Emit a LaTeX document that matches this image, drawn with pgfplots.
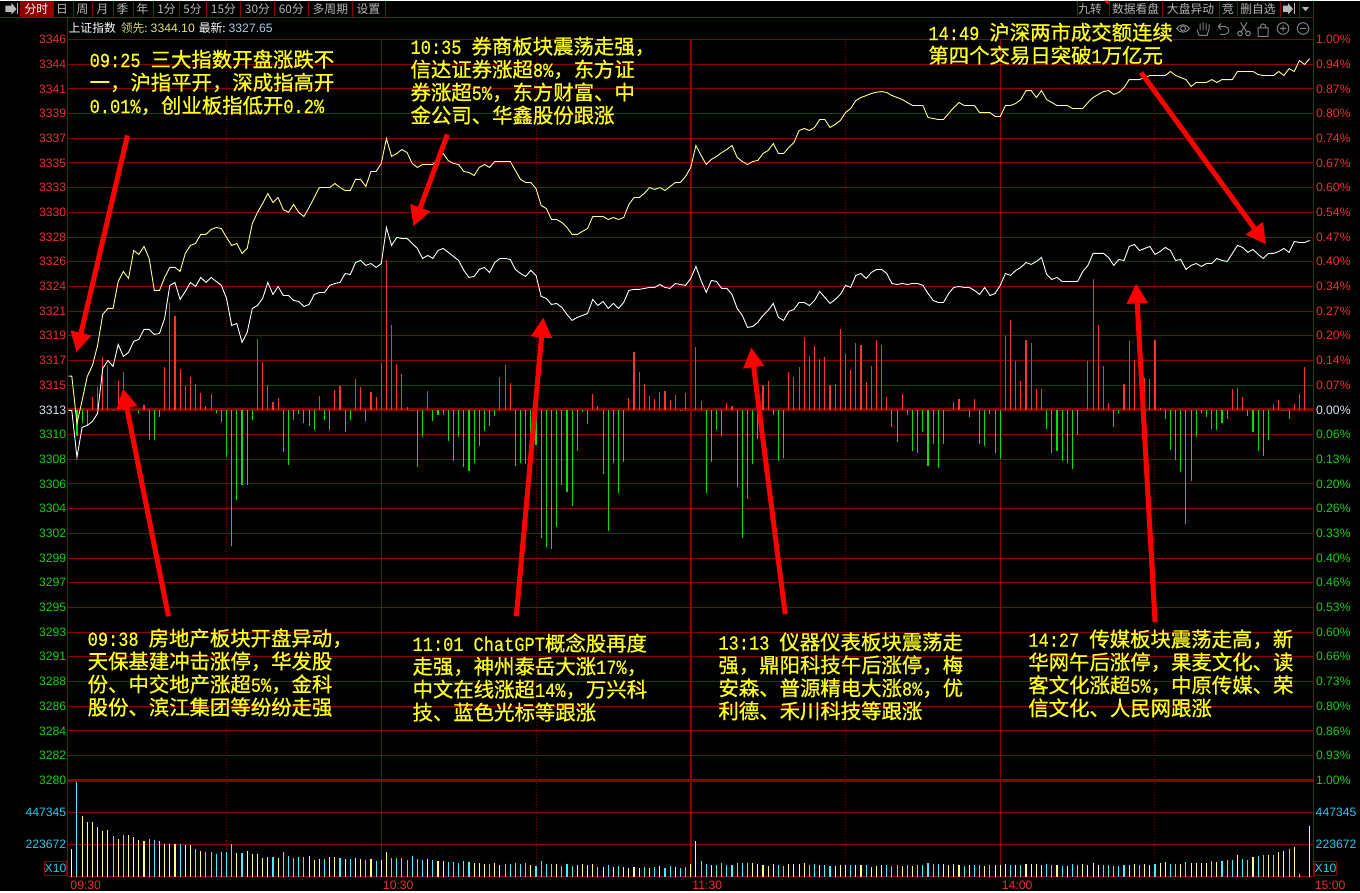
\documentclass[border=0pt]{standalone}
\usepackage{fontspec}
\usepackage{pgfplots}
\pgfplotsset{compat=1.18}
\usetikzlibrary{arrows.meta}
\setmainfont{Liberation Sans}
\newfontfamily\cjk{Noto Sans CJK SC}
\newfontfamily\annocjk[FakeBold=0.7]{Noto Sans CJK SC}
\newfontfamily\annolat[FakeBold=0.4,FakeStretch=0.85]{Liberation Mono}
\newcommand{\la}[1]{{\annolat\fontsize{20}{23}\selectfont #1}}
\newcommand{\gapx}{\hspace{10pt}}
\definecolor{gridred}{HTML}{8C0000}
\definecolor{barred}{HTML}{FF3232}
\definecolor{bargreen}{HTML}{00E000}
\definecolor{lblred}{HTML}{E63232}
\definecolor{lblgreen}{HTML}{10D010}
\definecolor{lblcyan}{HTML}{28C8F0}
\definecolor{volcyan}{HTML}{40F0FF}
\definecolor{volyel}{HTML}{FFFF80}
\definecolor{lineyel}{HTML}{FFFF90}
\definecolor{annoyel}{HTML}{FFFF20}
\definecolor{uigrey}{HTML}{B8B8B8}
\definecolor{uiblue}{HTML}{B0C8E8}
\newcommand{\R}[1]{\textcolor{lblred}{#1}}
\newcommand{\G}[1]{\textcolor{lblgreen}{#1}}
\pgfplotsset{panel/.style={
  scale only axis, width=1245.8pt, xmin=-0.74, xmax=240.7,
  major tick length=0pt, minor tick length=0pt,
  tick label style={font=\fontsize{12.2}{14}\selectfont},
  axis line style={gridred, line width=1pt}}}
\begin{document}
\begin{tikzpicture}
\begin{scope}[x=1pt,y=-1pt]
\fill[black] (0,0) rectangle (1360,891);
\useasboundingbox (0,0) rectangle (1360,891);
\end{scope}

% red / green bars, grid, percent scale on the right
\begin{axis}[panel, at={(67.5pt,-39pt)}, anchor=north west, height=741pt,
  ymin=-370.5, ymax=370.5,
  axis x line*=bottom, axis y line*=right,
  xtick={60,120,180}, xticklabels={}, minor xtick={30,90,150,210},
  xmajorgrids, xminorgrids, ymajorgrids,
  major grid style={gridred, line width=1pt},
  minor grid style={gridred, line width=1pt, dash pattern=on 1pt off 2pt},
  ytick={-370.5,-345.8,-321.1,-296.4,-271.7,-247,-222.3,-197.6,-172.9,-148.2,-123.5,-98.8,-74.1,-49.4,-24.7,0,24.7,49.4,74.1,98.8,123.5,148.2,172.9,197.6,222.3,247,271.7,296.4,321.1,345.8,370.5},
  yticklabels={\G{1.00\%},\G{0.93\%},\G{0.86\%},\G{0.80\%},\G{0.73\%},\G{0.66\%},\G{0.60\%},\G{0.53\%},\G{0.46\%},\G{0.40\%},\G{0.33\%},\G{0.26\%},\G{0.20\%},\G{0.13\%},\G{0.06\%},\textcolor{uiblue!50!white}{0.00\%},\R{0.07\%},\R{0.14\%},\R{0.20\%},\R{0.27\%},\R{0.34\%},\R{0.40\%},\R{0.47\%},\R{0.54\%},\R{0.60\%},\R{0.67\%},\R{0.74\%},\R{0.80\%},\R{0.87\%},\R{0.94\%},\R{1.00\%}},
  yticklabel style={inner xsep=2.5pt, anchor=west}]
\draw[gridred, line width=3pt] (axis cs:-0.74,0) -- (axis cs:240.7,0);
\draw[gridred, line width=2pt] (axis cs:120,-370.5) -- (axis cs:120,370.5);
\addplot[ycomb, barred, line width=1.1pt, no marks] coordinates {
(4,13)(5,23)(6,53)(7,45)(9,29)(10,38)(14,5)(18,43)(19,107)(20,94)(21,41)(22,24)(23,33)(24,26)(25,17)(26,4)(27,16)
(36,71)(37,48)(38,25)(39,8)(40,12)(48,14)(51,20)(52,24)(55,31)(56,23)(58,18)(59,13)(60,47)(61,150)(62,85)(63,46)(64,36)(65,3)(69,19)
(83,33)(84,45)(85,27)(101,16)(102,4)(108,12)(109,58)(110,38)(111,26)(112,14)(113,11)(114,18)(115,19)(116,10)(117,15)(119,17)
(121,63)(122,9)(127,7)(128,4)(134,25)(135,29)(139,38)(140,33)(141,43)(142,73)(143,54)(144,64)(145,51)(146,53)(147,25)(148,26)(149,81)(150,56)(151,40)(152,67)(153,65)(154,28)(155,44)(156,70)(157,65)(158,13)
(161,16)(171,8)(172,11)(175,11)(181,74)(182,90)(183,49)(184,29)(185,70)(186,67)(187,21)(188,21)(197,49)(198,131)(199,85)(200,44)(201,7)(204,26)(205,69)(206,50)(208,32)(209,31)(210,70)(211,2)
(225,21)(226,22)(227,13)(233,6)(234,10)(237,6)(238,16)(239,43)};
\addplot[ycomb, bargreen, line width=1.1pt, no marks] coordinates {
(1,-26)(2,-13)(3,-16)(8,-1)(13,-3)(15,-30)(16,-30)(17,-7)(28,-3)(29,-12)(30,-47)(31,-136)(32,-90)(33,-75)(34,-75)(35,-10)
(41,-42)(42,-55)(43,-10)(44,-4)(45,-13)(46,-16)(47,-20)(49,-10)(50,-20)(53,-22)(54,-10)(57,-11)(66,-1)(67,-57)(68,-27)(70,-11)(71,-5)(72,-5)(73,-31)
(74,-51)(75,-27)(76,-57)(77,-61)(78,-53)(79,-36)(80,-21)(81,-16)(82,-6)(86,-56)(87,-53)(88,-54)(89,-52)(90,-35)(91,-128)(92,-137)(93,-139)(94,-117)(95,-75)(96,-82)(97,-96)(98,-41)(99,-2)(100,-14)
(103,-64)(104,-121)(105,-53)(106,-83)(107,-52)(118,-1)(123,-83)(124,-52)(125,-20)(126,-26)(129,-77)(130,-128)(131,-89)(132,-54)(133,-29)(136,-5)(137,-51)(138,-48)
(159,-17)(160,-32)(162,-5)(163,-41)(164,-43)(165,-22)(166,-56)(167,-34)(168,-58)(169,-34)(170,-1)(173,-1)(174,-7)(176,-34)(177,-36)(178,-4)(179,-43)(180,-49)
(189,-19)(190,-43)(191,-41)(192,-51)(193,-53)(194,-59)(195,-25)(196,-1)(202,-17)(203,-3)(212,-9)(213,-40)(214,-50)(215,-62)(216,-114)(217,-71)(218,-27)(219,-3)(220,-7)(221,-19)(222,-20)(223,-13)(224,-9)
(228,-6)(229,-22)(230,-41)(231,-46)(232,-30)(235,-1)(236,-9)};
\end{axis}

% index lines and the points scale on the left
\begin{axis}[panel, at={(67.5pt,-39pt)}, anchor=north west, height=741pt,
  ymin=3280, ymax=3346,
  axis x line=none, axis y line*=left,
  y axis line style={gridred, line width=1pt},
  ytick={3280,3282.2,3284.4,3286.6,3288.8,3291,3293.2,3295.4,3297.6,3299.8,3302,3304.2,3306.4,3308.6,3310.8,3313,3315.2,3317.4,3319.6,3321.8,3324,3326.2,3328.4,3330.6,3332.8,3335,3337.2,3339.4,3341.6,3343.8,3346},
  yticklabels={\G{3280},\G{3282},\G{3284},\G{3286},\G{3288},\G{3291},\G{3293},\G{3295},\G{3297},\G{3299},\G{3302},\G{3304},\G{3306},\G{3308},\G{3310},\textcolor{uiblue!50!white}{3313},\R{3315},\R{3317},\R{3319},\R{3321},\R{3324},\R{3326},\R{3328},\R{3330},\R{3333},\R{3335},\R{3337},\R{3339},\R{3341},\R{3344},\R{3346}},
  yticklabel style={inner xsep=1.5pt, anchor=east}]
\addplot[lineyel, line width=0.9pt, no marks] coordinates {
(-0.6,3316.01)(0,3316.01)(1,3311.79)(2,3313.84)(3,3315.98)(4,3316.96)(5,3318.74)(6,3321.5)(7,3322.04)(8,3322.04)(9,3324.44)(10,3325.33)(11,3324.71)(12,3327.2)(13,3326.85)(14,3327.56)(15,3326.49)(16,3323.64)(17,3323.64)(18,3324.8)(19,3325.69)(20,3325.69)(21,3325.33)(22,3326.94)(23,3327.65)(24,3327.83)(25,3328.63)(26,3328.63)(27,3329.07)(28,3329.25)(29,3329.16)(30,3328.36)
(31,3327.65)(32,3327.83)(33,3326.94)(34,3327.38)(35,3329.61)(36,3330.59)(37,3331.39)(38,3332.28)(39,3331.48)(40,3331.92)(41,3330.85)(42,3330.59)(43,3331.3)(44,3330.59)(45,3330.23)(46,3331.03)(47,3331.92)(48,3332.81)(49,3332.81)(50,3332.81)(51,3333.17)(52,3332.81)(53,3332.55)(54,3332.55)(55,3333.53)(56,3333.53)(57,3332.9)(58,3334.24)(59,3334.24)(60,3334.95)
(61,3337.18)(62,3335.58)(63,3335.84)(64,3336.2)(65,3335.93)(66,3334.95)(67,3334.6)(68,3334.86)(69,3334.86)(70,3334.86)(71,3335.4)(72,3335.84)(73,3335.2)(74,3334.95)(75,3334.86)(76,3334.24)(77,3334.15)(78,3333.88)(79,3334.6)(80,3334.86)(81,3334.6)(82,3335.13)(83,3335.13)(84,3335.13)(85,3335.13)(86,3334.33)(87,3333.53)(88,3333.26)(89,3333.26)(90,3332.72)
(91,3331.21)(92,3330.94)(93,3329.96)(94,3329.96)(95,3329.7)(96,3329.25)(97,3328.63)(98,3328.63)(99,3328.9)(100,3329.16)(101,3330.23)(102,3330.23)(103,3330.23)(104,3329.96)(105,3330.14)(106,3329.96)(107,3330.14)(108,3331.3)(109,3331.92)(110,3331.92)(111,3332.28)(112,3332.81)(113,3332.64)(114,3332.81)(115,3332.55)(116,3332.9)(117,3333.26)(118,3333.26)(119,3333.8)(120,3334.6)
(121,3336.56)(122,3335.67)(123,3334.86)(124,3335.31)(125,3335.58)(126,3335.93)(127,3336.2)(128,3336.56)(129,3335.49)(130,3335.13)(131,3334.86)(132,3335.13)(133,3335.22)(134,3335.84)(135,3336.11)(136,3336.73)(137,3335.84)(138,3335.84)(139,3336.38)(140,3336.82)(141,3337.89)(142,3338.07)(143,3337.89)(144,3338.16)(145,3338.87)(146,3338.87)(147,3338.16)(148,3338.43)(149,3338.78)(150,3339.49)
(151,3339.85)(152,3340.56)(153,3340.83)(154,3341)(155,3341.19)(156,3341.3)(157,3341.36)(158,3341.28)(159,3341.01)(160,3340.83)(161,3340.65)(162,3340.38)(163,3340.12)(164,3340.12)(165,3340.12)(166,3339.05)(167,3338.96)(168,3338.87)(169,3338.87)(170,3339.41)(171,3339.94)(172,3340.38)(173,3340.12)(174,3340.12)(175,3340.12)(176,3339.49)(177,3339.49)(178,3339.49)(179,3339.14)(180,3339.14)
(181,3340.12)(182,3340.12)(183,3340.3)(184,3340.65)(185,3341.45)(186,3341.45)(187,3340.83)(188,3341.45)(189,3340.65)(190,3340.38)(191,3340.12)(192,3340.12)(193,3340.12)(194,3339.85)(195,3339.85)(196,3339.85)(197,3340.38)(198,3340.83)(199,3341.1)(200,3341.36)(201,3341.45)(202,3341.1)(203,3341.28)(204,3341.72)(205,3342.43)(206,3342.43)(207,3342.43)(208,3342.61)(209,3342.79)(210,3342.79)
(211,3342.79)(212,3342.79)(213,3343.15)(214,3342.79)(215,3342.61)(216,3342.43)(217,3341.81)(218,3342.17)(219,3342.17)(220,3342.17)(221,3342.43)(222,3342.17)(223,3342.43)(224,3342.43)(225,3342.43)(226,3343.15)(227,3343.15)(228,3343.15)(229,3343.15)(230,3342.88)(231,3342.79)(232,3342.79)(233,3342.79)(234,3343.15)(235,3342.79)(236,3343.41)(237,3343.15)(238,3344.13)(239,3343.77)(240,3344.3)};
\addplot[white, line width=0.9pt, no marks] coordinates {
(-0.6,3312.95)(0,3312.95)(1,3308.77)(2,3311.44)(3,3311.62)(4,3311.97)(5,3312.68)(6,3316.69)(7,3317.4)(8,3316.87)(9,3318.83)(10,3317.76)(11,3318.12)(12,3319.1)(13,3319.28)(14,3320.17)(15,3320.17)(16,3319.72)(17,3319.81)(18,3321.15)(19,3324.08)(20,3324.35)(21,3322.84)(22,3323.55)(23,3324.35)(24,3323.99)(25,3324.8)(26,3324.35)(27,3324.8)(28,3324.44)(29,3324.09)(30,3322.93)
(31,3320.52)(32,3320.7)(33,3319.01)(34,3319.9)(35,3322.04)(36,3322.3)(37,3322.93)(38,3324.35)(39,3323.28)(40,3323.99)(41,3323.19)(42,3323.19)(43,3322.75)(44,3322.66)(45,3322.21)(46,3322.39)(47,3323.28)(48,3323.46)(49,3323.46)(50,3324.09)(51,3324.26)(52,3324.35)(53,3325.15)(54,3325.06)(55,3326.13)(56,3326.31)(57,3325.87)(58,3326.04)(59,3325.69)(60,3326.04)
(61,3329.25)(62,3327.65)(63,3328.36)(64,3328.27)(65,3328.27)(66,3327.83)(67,3327.38)(68,3326.49)(69,3326.76)(70,3326.49)(71,3327.2)(72,3327.38)(73,3327.03)(74,3326.67)(75,3326.31)(76,3325.42)(77,3324.8)(78,3324.89)(79,3325.51)(80,3325.69)(81,3325.24)(82,3326.13)(83,3326.49)(84,3326.49)(85,3326.4)(86,3325.51)(87,3325.15)(88,3324.89)(89,3325.42)(90,3324.98)
(91,3323.11)(92,3322.93)(93,3322.39)(94,3322.48)(95,3322.13)(96,3321.5)(97,3320.97)(98,3321.24)(99,3321.41)(100,3321.59)(101,3322.84)(102,3322.3)(103,3322.66)(104,3322.04)(105,3322.48)(106,3322.04)(107,3322.57)(108,3323.64)(109,3323.73)(110,3323.73)(111,3323.82)(112,3323.91)(113,3323.91)(114,3324.17)(115,3323.91)(116,3323.82)(117,3324.26)(118,3324.17)(119,3324.09)(120,3324.71)
(121,3325.78)(122,3324.53)(123,3323.46)(124,3324.53)(125,3324.44)(126,3323.82)(127,3323.82)(128,3323.28)(129,3322.04)(130,3321.41)(131,3320.34)(132,3320.43)(133,3320.79)(134,3321.41)(135,3321.86)(136,3322.48)(137,3321.24)(138,3320.97)(139,3321.77)(140,3321.95)(141,3322.57)(142,3322.57)(143,3322.3)(144,3322.75)(145,3323.55)(146,3323.02)(147,3322.48)(148,3322.84)(149,3323.28)(150,3324.09)
(151,3323.91)(152,3324.98)(153,3325.15)(154,3324.71)(155,3325.24)(156,3325.51)(157,3325.51)(158,3325.15)(159,3324.26)(160,3324.17)(161,3324.26)(162,3324.17)(163,3324.26)(164,3324.26)(165,3324.09)(166,3323.37)(167,3322.75)(168,3322.57)(169,3322.57)(170,3323.37)(171,3323.91)(172,3323.99)(173,3323.91)(174,3323.91)(175,3323.64)(176,3323.28)(177,3323.91)(178,3323.19)(179,3323.37)(180,3324.09)
(181,3325.15)(182,3324.98)(183,3325.42)(184,3325.69)(185,3326.13)(186,3325.96)(187,3326.22)(188,3326.58)(189,3325.06)(190,3324.62)(191,3324.8)(192,3324.44)(193,3324.44)(194,3324.44)(195,3324.44)(196,3325.33)(197,3325.87)(198,3326.94)(199,3326.94)(200,3326.94)(201,3326.58)(202,3325.87)(203,3326.4)(204,3326.31)(205,3327.56)(206,3327.74)(207,3327.2)(208,3327.38)(209,3327.56)(210,3326.85)
(211,3327.11)(212,3327.47)(213,3327.2)(214,3326.31)(215,3326.4)(216,3325.51)(217,3325.87)(218,3326.04)(219,3325.78)(220,3326.04)(221,3326.04)(222,3326.49)(223,3326.31)(224,3326.22)(225,3326.94)(226,3327.65)(227,3327.47)(228,3327.03)(229,3327.29)(230,3326.85)(231,3326.49)(232,3326.94)(233,3326.94)(234,3327.11)(235,3327.38)(236,3327.03)(237,3328)(238,3327.91)(239,3327.91)(240,3328.09)};
\end{axis}

% volume panel, in thousands
\begin{axis}[panel, at={(67.5pt,-780pt)}, anchor=north west, height=96.8pt,
  ymin=0, ymax=671,
  xtick={60,120,180}, xticklabels={10:30,11:30,14:00},
  minor xtick={30,90,150,210},
  extra x ticks={0,240}, extra x tick labels={\hspace*{-3pt}09:30,\hspace*{3.5pt}15:00},
  extra x tick style={grid=none},
  xmajorgrids, xminorgrids, ymajorgrids,
  major grid style={gridred, line width=1pt},
  minor grid style={gridred, line width=1pt, dash pattern=on 1pt off 2pt},
  ytick={223.672,447.345}, yticklabels={223672,447345},
  xticklabel style={anchor=north west, inner xsep=1.5pt, inner ysep=3.5pt, text=lblred},
  yticklabel style={inner xsep=1.5pt, anchor=east, text=lblcyan}]
\draw[gridred, line width=2pt] (axis cs:120,0) -- (axis cs:120,671);
\addplot[ycomb, volcyan, line width=1.1pt, no marks] coordinates {
(1,667)(8,285)(10,292)(15,264)(16,257)(21,229)(24,194)(26,174)(27,174)(28,160)(29,174)(30,174)(31,229)(33,167)(39,139)(41,174)(42,146)(43,132)(44,139)(45,139)(49,125)(52,132)(54,125)(57,118)(59,111)(62,132)(63,132)(64,132)(65,118)(66,146)(67,125)(68,118)(70,118)(73,104)(74,104)(75,97)(76,111)(77,104)
(81,90)(84,90)(85,90)(86,97)(87,90)(88,97)(90,76)(91,111)(92,90)(93,90)(95,76)(96,90)(97,76)(102,69)(104,83)(106,76)(111,69)(113,69)(115,62)(116,76)(118,62)(119,69)(122,111)(123,90)(125,83)(126,97)(127,83)(128,83)(129,97)(130,97)(131,97)(137,83)(138,76)(143,83)(144,90)(146,83)(147,76)(151,83)(154,83)(158,83)(159,76)(160,83)
(162,83)(164,83)(165,83)(166,97)(167,90)(168,90)(173,76)(175,83)(176,83)(178,83)(182,83)(184,83)(189,90)(190,83)(192,76)(194,90)(195,83)(200,83)(201,83)(202,76)(203,76)(204,83)(207,83)(210,90)(213,90)(214,90)(216,104)(221,111)(223,111)(224,118)(225,118)(227,125)(228,118)(230,146)(231,153)(233,153)(236,194)(238,21)};
\addplot[ycomb, volyel, line width=1.1pt, no marks] coordinates {
(2,424)(3,382)(4,382)(5,347)(6,320)(7,326)(9,264)(11,292)(12,278)(13,257)(14,250)(17,250)(18,229)(19,229)(20,229)(22,222)(23,222)(25,181)(32,167)(34,181)(35,160)(36,160)(37,132)(38,139)(40,132)(46,146)(47,118)(48,125)(50,139)(51,139)(53,125)(55,132)(56,125)(58,125)(60,118)(61,174)(69,125)(71,111)(72,111)
(78,97)(79,97)(80,90)(82,97)(83,83)(89,83)(94,90)(98,83)(99,90)(100,83)(101,90)(103,69)(105,69)(107,69)(108,62)(109,69)(110,62)(112,62)(114,76)(117,69)(120,90)(121,250)(124,83)(132,97)(133,90)(134,83)(135,76)(136,90)(139,90)(140,90)(141,90)(142,97)(145,83)(148,76)(149,83)(150,83)(152,83)(153,83)(155,69)(156,76)(157,83)
(161,76)(163,76)(169,90)(170,83)(171,90)(172,83)(174,83)(177,76)(179,83)(180,83)(181,90)(183,83)(185,90)(186,90)(187,90)(188,83)(191,83)(193,76)(196,90)(197,83)(198,97)(205,83)(206,90)(208,90)(209,83)(211,97)(212,104)(215,90)(217,97)(218,97)(219,97)(220,97)(222,104)(226,153)(229,139)(232,153)(234,174)(235,181)(237,208)(240,354)};
\addplot[ycomb, white, line width=1.1pt, no marks] coordinates {(0,194)(199,83)};
\end{axis}

% screen furniture, in image pixels
\begin{scope}[x=1pt,y=-1pt]
\draw[gridred, line width=3pt] (67.5,780) -- (1313.3,780);
\draw[gridred, line width=1pt] (67.5,17.5) -- (67.5,39) (1313.3,0) -- (1313.3,39);
\draw[gridred, line width=1pt] (67.5,39) -- (1313.3,39);
\draw[gridred!80!red, line width=1pt] (0,17.5) -- (1313.3,17.5);
\fill[gridred] (20,0) rectangle (53,17);
\foreach \x in {20,53,73,92.5,113,133,153,179.5,206,240,274,308,352,385,1077,1109,1162,1219,1237,1280,1299}
  \draw[gridred, line width=1pt] (\x,0) -- (\x,17.5);
\fill[uigrey] (5,5) -- (11,5) -- (11,2.5) -- (16,8.5) -- (11,14) -- (11,11.5) -- (5,11.5) -- cycle;
\fill[uigrey] (16.5,2.5) rectangle (18,14);
\fill[uigrey] (1283,5) -- (1288,5) -- (1288,2.5) -- (1293,8.5) -- (1288,14) -- (1288,11.5) -- (1283,11.5) -- cycle;
\fill[uigrey] (1293.5,2.5) rectangle (1295,14);
\fill[uigrey] (1302,6.5) -- (1309,6.5) -- (1305.5,10.5) -- cycle;
\fill[red] (1104,0) -- (1108.5,0) -- (1108.5,4.5) -- cycle;
\tikzset{bt/.style={anchor=center, inner sep=0pt, font=\cjk\fontsize{11.8}{14}\selectfont, text=uigrey}}
\node[bt, text=white] at (36,8.5) {分时};
\node[bt] at (61.5,8.5) {日};
\node[bt] at (82,8.5) {周};
\node[bt] at (102,8.5) {月};
\node[bt] at (122,8.5) {季};
\node[bt] at (142,8.5) {年};
\node[bt] at (166,8.5) {1分};
\node[bt] at (192,8.5) {5分};
\node[bt] at (223,8.5) {15分};
\node[bt] at (257,8.5) {30分};
\node[bt] at (291,8.5) {60分};
\node[bt] at (330,8.5) {多周期};
\node[bt] at (368,8.5) {设置};
\node[bt] at (1090,8.5) {九转};
\node[bt] at (1135.5,8.5) {数据看盘};
\node[bt] at (1190.5,8.5) {大盘异动};
\node[bt] at (1228,8.5) {竞};
\node[bt] at (1258,8.5) {删自选};
% quote line
\node[anchor=west, inner sep=0pt, font=\fontsize{12.2}{14}\selectfont] at (68,28)
  {\textcolor{white}{\cjk\fontsize{11.8}{14}\selectfont 上证指数}\hspace{5pt}\textcolor{volyel!85!black}{\cjk\fontsize{11.8}{14}\selectfont 领先:}\hspace{3pt}\textcolor{volyel!90!black}{3344.10}\hspace{4pt}\textcolor{white}{\cjk\fontsize{11.8}{14}\selectfont 最新:}\hspace{3pt}\textcolor{uiblue}{3327.65}};
% tool icons
\begin{scope}[draw=uigrey!70!black, line width=1pt]
\draw (1176.5,28) .. controls (1180,23) and (1186,23) .. (1189.5,28) .. controls (1186,33) and (1180,33) .. cycle;
\draw (1183,28) circle (2.5);
\draw (1199,35) -- (1197,29) (1199,35) -- (1207,35) -- (1209,28) -- (1209,24) (1200,30) -- (1200,23) (1203,30) -- (1203,22) (1206,30) -- (1206,23);
\draw (1218,26) -- (1225,26) .. controls (1230,26) and (1230,34) .. (1225,34) -- (1220,34) (1218,26) -- (1221,23) (1218,26) -- (1221,29);
\draw (1240.5,22) -- (1247,32) (1247,22) -- (1240.5,32);
\draw (1240,33) circle (2.3) (1248,33) circle (2.3);
\draw (1258,27.5) rectangle (1268,36) (1260,27.5) .. controls (1260,22) and (1266,22) .. (1266,27.5);
\draw (1283,28) circle (5.8) (1280,28) -- (1286,28) (1283,25) -- (1283,31);
\draw (1303,28) circle (5.8) (1300,28) -- (1306,28);
\end{scope}
% X10 boxes
\tikzset{xbox/.style={draw=gridred, line width=1pt, text=lblcyan, inner sep=0pt, minimum width=22pt, minimum height=14pt, font=\fontsize{12.2}{14}\selectfont}}
\node[xbox] at (55,868) {X10};
\node[xbox] at (1325.5,868) {X10};
% right volume scale
\node[anchor=west, inner sep=0pt, text=lblcyan, font=\fontsize{12.2}{14}\selectfont] at (1315.5,812) {447345};
\node[anchor=west, inner sep=0pt, text=lblcyan, font=\fontsize{12.2}{14}\selectfont] at (1315.5,844.5) {223672};
% call-out arrows
\tikzset{call/.style={red, line width=5pt, -{Triangle[length=20pt,width=20pt]}}}
\draw[call] (127,135) -- (76,352);
\draw[call] (168,616) -- (122.5,388);
\draw[call] (447,134) -- (413,226);
\draw[call] (516,616) -- (543,317);
\draw[call] (785,614) -- (751,347);
\draw[call] (1155,622) -- (1136,283);
\draw[call] (1141,72) -- (1266,244);
% call-out texts
\tikzset{note/.style={anchor=north west, inner sep=0pt, align=left, text=annoyel, font=\annocjk\fontsize{20.4}{23}\selectfont}}
\node[note] at (89,49) {\la{09:25}\gapx 三大指数开盘涨跌不\\一，沪指平开，深成指高开\\\la{0.01\%}，创业板指低开\la{0.2\%}};
\node[note] at (410,36) {\la{10:35}\gapx 券商板块震荡走强，\\信达证券涨超\la{8\%}，东方证\\券涨超\la{5\%}，东方财富、中\\金公司、华鑫股份跟涨};
\node[note] at (928,22) {\la{14:49}\gapx 沪深两市成交额连续\\第四个交易日突破\la{1}万亿元};
\node[note] at (87,628) {\la{09:38}\gapx 房地产板块开盘异动，\\天保基建冲击涨停，华发股\\份、中交地产涨超\la{5\%}，金科\\股份、滨江集团等纷纷走强};
\node[note] at (412,633) {\la{11:01}\gapx\la{ChatGPT}概念股再度\\走强，神州泰岳大涨\la{17\%}，\\中文在线涨超\la{14\%}，万兴科\\技、蓝色光标等跟涨};
\node[note] at (718,632) {\la{13:13}\gapx 仪器仪表板块震荡走\\强，鼎阳科技午后涨停，梅\\安森、普源精电大涨\la{8\%}，优\\利德、禾川科技等跟涨};
\node[note] at (1028,629) {\la{14:27}\gapx 传媒板块震荡走高，新\\华网午后涨停，果麦文化、读\\客文化涨超\la{5\%}，中原传媒、荣\\信文化、人民网跟涨};
\end{scope}
\end{tikzpicture}
\end{document}
